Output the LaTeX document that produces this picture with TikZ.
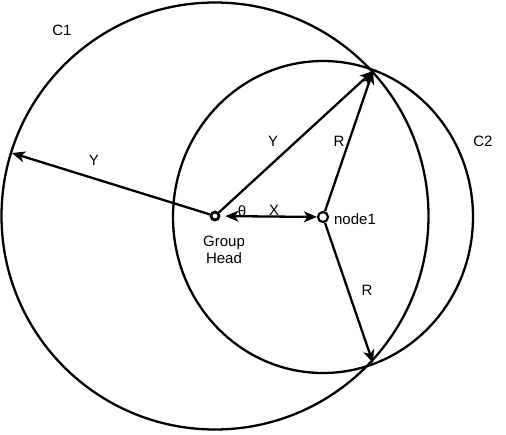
\documentclass[tikz,border=0pt]{standalone}
\usepackage{fontspec}
\setmainfont{Liberation Sans}
\usetikzlibrary{arrows.meta, positioning}

\begin{document}
\begin{tikzpicture}[x=1pt, y=-1pt, line width=2.3pt,
    >={Stealth[length=13pt,width=11pt,inset=3.5pt]},
    every node/.style={font=\fontsize{15}{17}\selectfont},
    dot/.style={circle, draw, fill=white, inner sep=0pt}]
    \useasboundingbox (0,0) rectangle (506,434);
    \node[dot, minimum size=8pt, line width=2.8pt] (gh) at (215,216) {};
    \node[dot, minimum size=10pt, line width=2.2pt] (n1) at (323,217) {};
    \coordinate (top) at (373,71);
    \coordinate (bot) at (373,363);
    \coordinate (edge) at (12,153);
    % the two ranges
    \draw (gh) circle[radius=213.5];
    \draw (n1) ellipse[x radius=150, y radius=156];
    \draw[->] (gh) -- (edge);
    \draw[->] (gh) -- (top);
    \draw[<->, shorten <=5pt] (gh) -- (n1);
    \draw[->] (n1) -- (top);
    \draw[->] (n1) -- (bot);
    % labels
    \node (c1) at (62,30) {C1};
    \node (c2) at (483,141) {C2};
    \node (yl) at (94,160) {Y};
    \node (yu) at (273,141) {Y};
    \node (ru) at (339,141) {R};
    \node (rd) at (367,290) {R};
    \node (th) at (242,211) {θ};
    \node (xl) at (274,210) {X};
    \node[anchor=west, inner sep=0pt] (n1lbl) at (333,219) {node1};
    \node[align=center] (ghlbl) at (224,250) {Group\\Head};
\end{tikzpicture}
\end{document}
